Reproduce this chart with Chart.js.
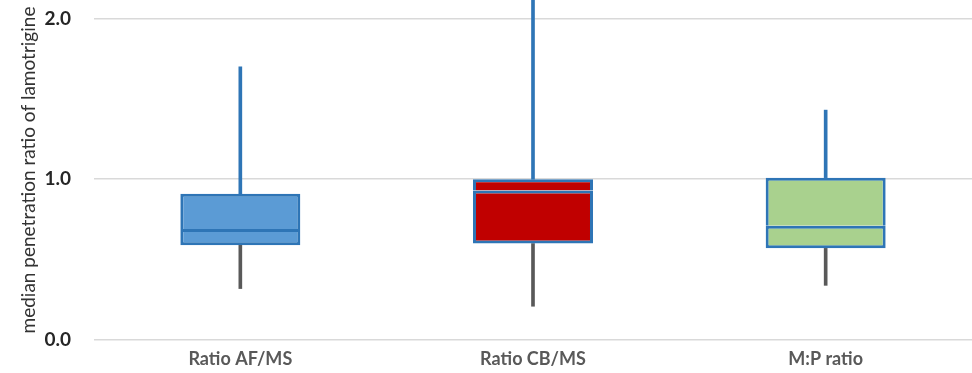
<!DOCTYPE html>
<html>
<head>
<meta charset="utf-8">
<script src="https://cdn.jsdelivr.net/npm/chart.js@4.4.1/dist/chart.umd.min.js"></script>
<style>
  html, body { margin: 0; padding: 0; background: #ffffff; }
  #wrap { width: 972px; height: 373px; }
</style>
</head>
<body>
<div id="wrap"><canvas id="c" width="972" height="373"></canvas></div>
<script>
// Box-plot summary of lamotrigine penetration ratios
const categories = ['Ratio AF/MS', 'Ratio CB/MS', 'M:P ratio'];
const whiskerLow = [0.32, 0.21, 0.34];
const quartile1  = [0.59, 0.60, 0.57];
const medians    = [0.69, 0.93, 0.71];
const quartile3  = [0.91, 1.00, 1.01];
const whiskerHigh = [1.70, 2.40, 1.43];
const yTicks = [0, 1, 2];

const boxFills = ['#5B9BD5', '#C00000', '#A9D18E'];
const outline = '#2E75B6';

const pairs = (a, b) => a.map((v, i) => [v, b[i]]);

new Chart(document.getElementById('c'), {
  type: 'bar',
  data: {
    labels: categories,
    datasets: [
      { // lower whisker
        data: pairs(whiskerLow, quartile1),
        backgroundColor: '#595959',
        barThickness: 3,
        grouped: false,
        order: 3
      },
      { // upper whisker
        data: pairs(quartile3, whiskerHigh),
        backgroundColor: outline,
        barThickness: 3,
        grouped: false,
        order: 3
      },
      { // box: Q1 to median
        data: pairs(quartile1, medians),
        backgroundColor: boxFills,
        borderColor: outline,
        borderWidth: 3,
        borderSkipped: false,
        barPercentage: 0.41,
        categoryPercentage: 1,
        grouped: false,
        order: 1
      },
      { // box: median to Q3
        data: pairs(medians, quartile3),
        backgroundColor: boxFills,
        borderColor: outline,
        borderWidth: 3,
        borderSkipped: 'bottom',
        barPercentage: 0.41,
        categoryPercentage: 1,
        grouped: false,
        order: 2
      }
    ]
  },
  options: {
    responsive: false,
    animation: false,
    layout: { padding: 0 },
    plugins: { legend: { display: false }, tooltip: { enabled: false } },
    scales: {
      x: {
        grid: { display: false, drawTicks: false },
        border: { display: false },
        ticks: {
          padding: 8,
          color: '#595959',
          font: { family: 'Lato', size: 18, weight: 'bold' }
        },
        afterFit: s => { s.height = 33; s.paddingLeft = 0; s.paddingRight = 0; }
      },
      y: {
        min: 0,
        max: 2.115,
        afterBuildTicks: s => { s.ticks = yTicks.map(v => ({ value: v })); },
        grid: { color: '#d9d9d9', lineWidth: 1.5, drawTicks: false },
        border: { display: false },
        ticks: {
          padding: 23,
          color: '#262626',
          font: { family: 'Lato', size: 19, weight: 'bold' },
          callback: v => v.toFixed(1)
        },
        title: {
          display: true,
          text: 'median penetration ratio of lamotrigine',
          color: '#333333',
          font: { family: 'Lato', size: 19 },
          padding: { top: 17, bottom: 0 }
        },
        afterFit: s => { s.width = 94; s.paddingTop = 0; s.paddingBottom = 0; }
      }
    }
  }
});
</script>
</body>
</html>
